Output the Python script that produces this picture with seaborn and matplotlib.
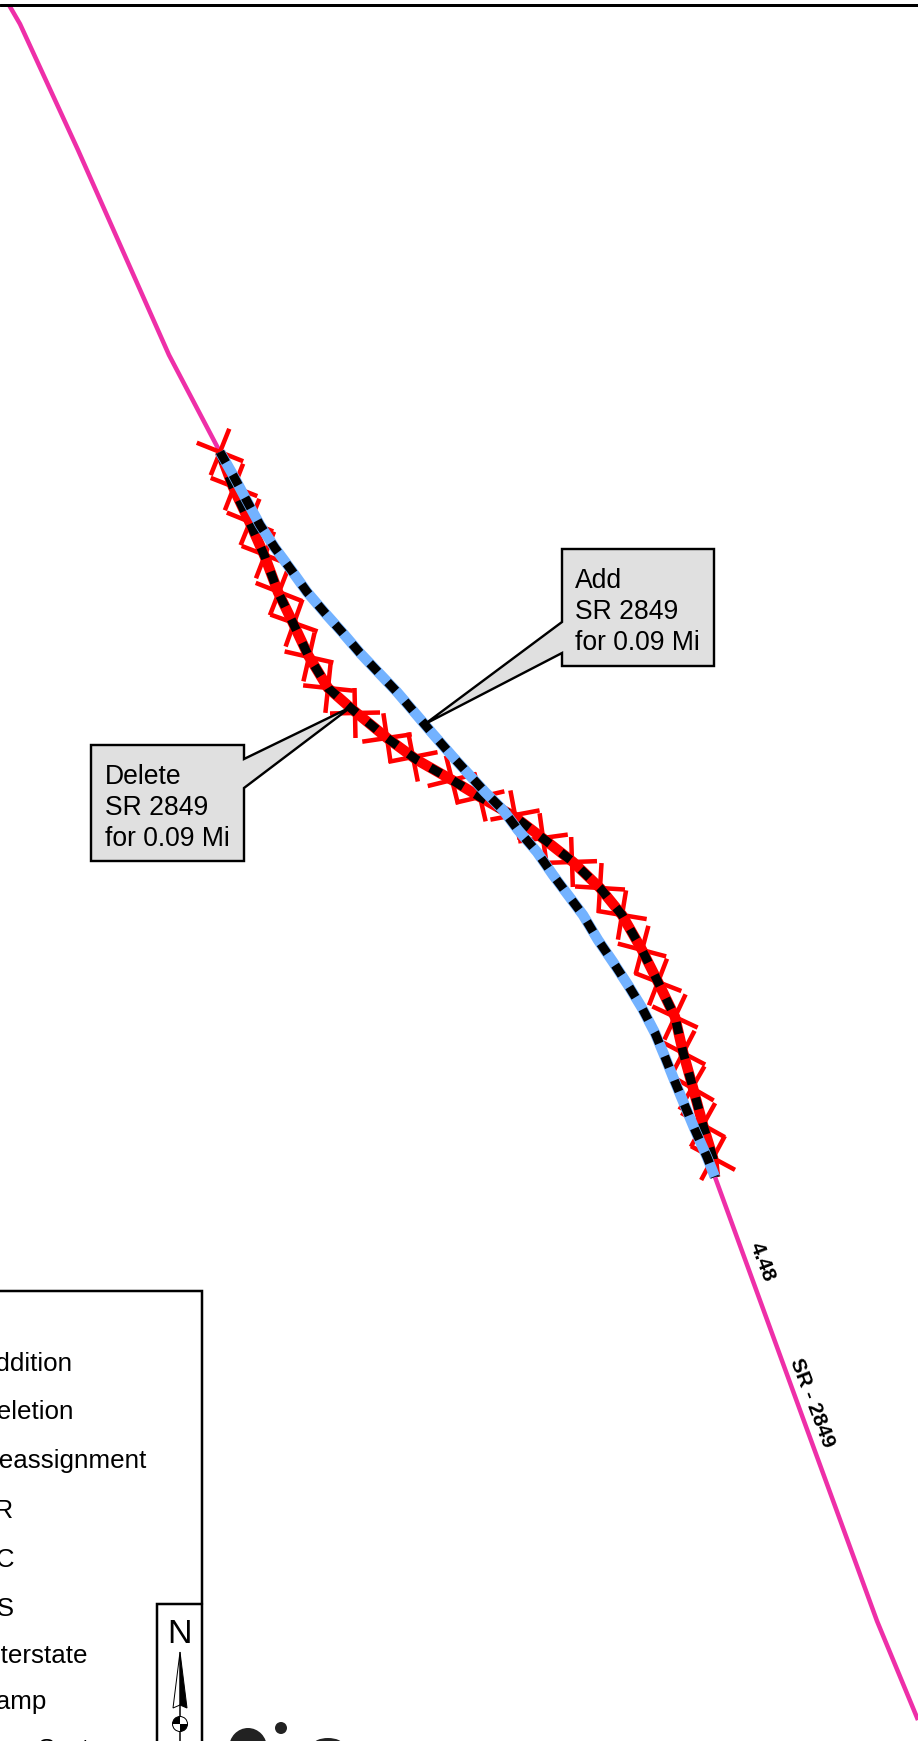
import numpy as np
import pandas as pd
import matplotlib
matplotlib.use("Agg")
import matplotlib.pyplot as plt
from matplotlib.patches import Polygon, Circle, Wedge, Ellipse
import seaborn as sns

# Map coordinates
pink_top_x = [9, 20, 78, 169, 220]
pink_top_y = [5, 24, 150, 355, 452]
pink_low_x = [715, 816, 877, 918]
pink_low_y = [1177, 1454, 1621, 1720]

old_x = [220, 233, 250, 265, 278, 293, 308, 328, 353, 387, 417, 452, 480, 515, 545, 573, 600, 622, 642, 658, 675, 683, 693, 703, 713, 715]
old_y = [452, 487, 523, 557, 592, 623, 655, 688, 710, 738, 760, 780, 797, 817, 840, 862, 888, 915, 950, 982, 1017, 1052, 1088, 1125, 1158, 1177]

new_x = [220, 233, 248, 260, 275, 292, 307, 325, 342, 360, 378, 397, 415, 432, 453, 485, 503, 518, 537, 553, 568, 583, 598, 613, 628, 642, 655, 665, 675, 685, 695, 707, 715]
new_y = [452, 475, 503, 525, 548, 571, 592, 613, 632, 653, 672, 692, 713, 733, 757, 792, 810, 830, 852, 875, 895, 915, 940, 962, 985, 1008, 1033, 1057, 1082, 1106, 1130, 1157, 1177]

cross_x = [220, 234, 250, 265, 279, 294, 309, 328, 355, 387, 413, 452, 480, 515, 543, 572, 600, 622, 642, 658, 675, 683, 692, 703, 713]
cross_y = [452, 487, 522, 555, 592, 623, 657, 688, 713, 738, 757, 780, 797, 815, 838, 862, 888, 915, 950, 982, 1017, 1053, 1088, 1125, 1158]
cross_half = 25

add_poly_x = [562, 714, 714, 562, 562, 425, 562]
add_poly_y = [549, 549, 666, 666, 653, 724, 622]
del_poly_x = [91, 244, 244, 351, 244, 244, 91]
del_poly_y = [745, 745, 759, 707, 788, 861, 861]
add_lines = ["Add", "SR 2849", "for 0.09 Mi"]
add_base = [588, 619, 650]
del_lines = ["Delete", "SR 2849", "for 0.09 Mi"]
del_base = [784, 815, 846]

legend_labels = ["Addition", "Deletion", "Reassignment", "SR", "NC", "US", "Interstate", "Ramp", "Sect"]
legend_right = [73, 74, 147, 14, 15, 14, 88, 47, 90]
legend_base = [1371, 1419, 1468, 1518, 1567, 1616, 1663, 1709, 1757]

PINK = "#EE2FA8"
RED = "#FF0000"
BLUE = "#73B2FF"
W, H = 918, 1741
DPI = 100
px = 72 / DPI

sns.set_theme(style="white")
plt.rcParams["font.family"] = ["Liberation Sans", "DejaVu Sans"]
fig = plt.figure(figsize=(W / DPI, H / DPI), dpi=DPI)
ax = fig.add_axes([0, 0, 1, 1])


def route(xs, ys, color, width, **kw):
    df = pd.DataFrame({"x": xs, "y": ys})
    sns.lineplot(data=df, x="x", y="y", sort=False, estimator=None, color=color,
                 linewidth=width * px, ax=ax, solid_capstyle="butt", **kw)


def dashed(xs, ys):
    route(xs, ys, "black", 9, linestyle=(0, (12 / 9, 14 / 9)), dash_capstyle="butt")


route(pink_top_x, pink_top_y, PINK, 4.5)
route(pink_low_x, pink_low_y, PINK, 4.5)

# deletion crosses: arms lie at +-45 degrees to the local route direction
cx, cy = np.array(cross_x, float), np.array(cross_y, float)
n = len(cx)
lo = np.maximum(np.arange(n) - 2, 0)
hi = np.minimum(np.arange(n) + 2, n - 1)
ang = np.arctan2(cy[hi] - cy[lo], cx[hi] - cx[lo])
for sign in (1, -1):
    a = ang + sign * np.pi / 4
    for x0, y0, t in zip(cx, cy, a):
        ax.plot([x0 - cross_half * np.cos(t), x0 + cross_half * np.cos(t)],
                [y0 - cross_half * np.sin(t), y0 + cross_half * np.sin(t)],
                color=RED, lw=4.5 * px, solid_capstyle="butt")

route(old_x, old_y, RED, 10.5)
dashed(old_x, old_y)
route(new_x, new_y, BLUE, 10.5)
dashed(new_x, new_y)

for xs, ys, lines, base, left in ((add_poly_x, add_poly_y, add_lines, add_base, 575),
                                  (del_poly_x, del_poly_y, del_lines, del_base, 105)):
    ax.add_patch(Polygon(np.column_stack([xs, ys]), closed=True, facecolor="#E0E0E0",
                         edgecolor="black", lw=2.4 * px, joinstyle="miter", zorder=5))
    for s, b in zip(lines, base):
        ax.text(left, b, s, fontsize=19.1, color="black", ha="left", va="baseline", zorder=6)

ax.text(762, 1262, "4.48", fontsize=15, fontweight="bold", rotation=-69,
        ha="center", va="center", rotation_mode="anchor", color="black")
ax.text(812, 1403, "SR - 2849", fontsize=15, fontweight="bold", rotation=-69,
        ha="center", va="center", rotation_mode="anchor", color="black")

# frames
ax.plot([0, W], [4.5, 4.5], color="black", lw=3 * px)
ax.plot([0, 202, 202], [1291, 1291, H], color="black", lw=2.5 * px, solid_joinstyle="miter")
ax.plot([157, 157, 202], [H, 1604, 1604], color="black", lw=2.5 * px, solid_joinstyle="miter")

for s, r, b in zip(legend_labels, legend_right, legend_base):
    ax.text(r, b, s, fontsize=18.7, color="black", ha="right", va="baseline")

# north arrow
ax.text(180, 1643, "N", fontsize=24.5, ha="center", va="baseline", color="black")
ax.add_patch(Polygon([[180, 1652], [173, 1708], [180, 1705]], closed=True, fc="white", ec="black", lw=1 * px))
ax.add_patch(Polygon([[180, 1652], [187, 1708], [180, 1705]], closed=True, fc="black", ec="black", lw=1 * px))
ax.plot([180, 180], [1705, 1716], color="black", lw=1.5 * px)
ax.plot([180, 180], [1732, H], color="black", lw=1.5 * px)
ax.add_patch(Circle((180, 1724), 7.5, fc="white", ec="black", lw=1 * px))
ax.add_patch(Wedge((180, 1724), 7.5, 180, 270, fc="black", ec="none"))
ax.add_patch(Wedge((180, 1724), 7.5, 0, 90, fc="black", ec="none"))

# logo tops, cut off by the page edge
ax.add_patch(Circle((281, 1728), 6, fc="#222222", ec="none"))
ax.add_patch(Ellipse((248, 1748), 38, 40, fc="#222222", ec="none"))
ax.add_patch(Ellipse((328, 1745), 30, 14, fc="#222222", ec="none"))

ax.set_xlim(0, W)
ax.set_ylim(H, 0)
ax.set_xlabel("")
ax.set_ylabel("")
ax.axis("off")
fig.savefig("out.png", dpi=DPI, facecolor="white")
